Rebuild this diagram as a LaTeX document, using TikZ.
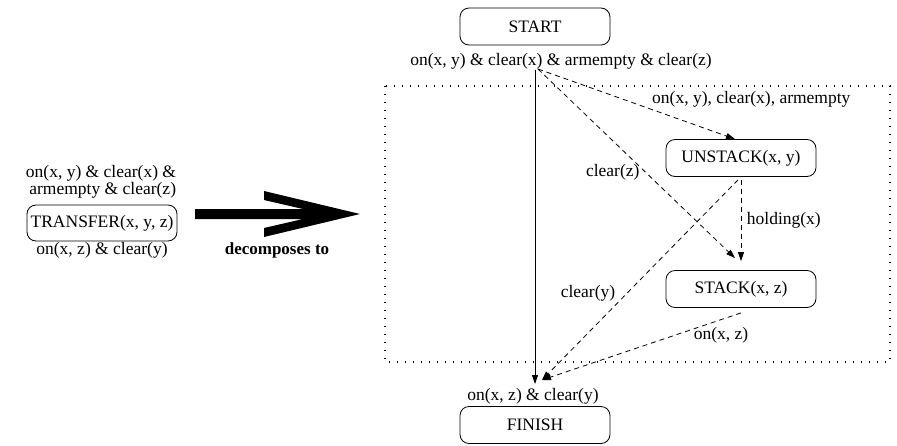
\documentclass[tikz,border=0pt]{standalone}
\usepackage{fontspec}
\setmainfont{Liberation Serif}
\usetikzlibrary{arrows.meta,positioning,calc}

\begin{document}
\begin{tikzpicture}[
  x=1pt, y=-1pt,
  font=\fontsize{17.5}{18}\selectfont,
  line width=0.8pt,
  box/.style={draw, rounded corners=9pt, align=center, inner sep=0pt, minimum width=#1, minimum height=37pt},
  box/.default=150pt,
  lbl/.style={inner sep=1.5pt, align=center},
  dsh/.style={dash pattern=on 5pt off 4pt},
  >={Triangle[length=9pt, width=6pt]},
]
\useasboundingbox (0,0) rectangle (897,445);

\node[box] (start) at (535,26.5) {START};
\node[lbl] (startlbl) at (561,61) {on(x, y) \& clear(x) \& armempty \& clear(z)};
\node[box] (unstack) at (741,158) {UNSTACK(x, y)};
\node[box] (stack) at (741,289) {STACK(x, z)};
\node[lbl] (finishlbl) at (533,396) {on(x, z) \& clear(y)};
\node[box] (finish) at (535,425) {FINISH};

\node[box, minimum height=36pt] (transfer) at (102,223) {TRANSFER(x, y, z)};
\node[lbl, align=right, font=\fontsize{17.5}{15.5}\selectfont] (pre) at (101,182) {on(x, y) \& clear(x) \&\\ armempty \& clear(z)};
\node[lbl] (post) at (102,250) {on(x, z) \& clear(y)};
\node[lbl, font=\fontsize{17}{18}\selectfont\bfseries] (dec) at (277,250) {decomposes to};

\fill (195,209) -- (303,209) -- (264,200) -- (264,191) -- (360,214) -- (264,237)
  -- (264,228) -- (303,219) -- (195,219) -- cycle;

\draw[line width=1.2pt, dash pattern=on 1.2pt off 6.8pt] (385,86) rectangle (890,362);

\coordinate (srcA) at (535,70);
\coordinate (snkA) at (535,384);
\coordinate (src) at (538,69);
\coordinate (snk) at (542,380);

\draw[->] (srcA) -- (snkA);
\draw[->, dsh] (src) -- node[pos=0.57, anchor=south west, lbl] {on(x, y), clear(x), armempty} ([xshift=-6pt]unstack.north);
\draw[->, dsh] (src) -- node[pos=0.545, left=4pt, lbl] {clear(z)} ([xshift=-6pt, yshift=12pt]stack.north);
\draw[->, dsh] ([yshift=-3pt]unstack.south) -- node[right=4pt, lbl] {holding(x)} ([yshift=9pt]stack.north);
\draw[->, dsh] ([xshift=-3pt, yshift=-3pt]unstack.south) -- node[pos=0.566, left=10pt, lbl] {clear(y)} (snk);
\draw[->, dsh] ([yshift=-5pt]stack.south) -- node[pos=0.1, below=6pt, lbl] {on(x, z)} (snk);
\end{tikzpicture}
\end{document}
